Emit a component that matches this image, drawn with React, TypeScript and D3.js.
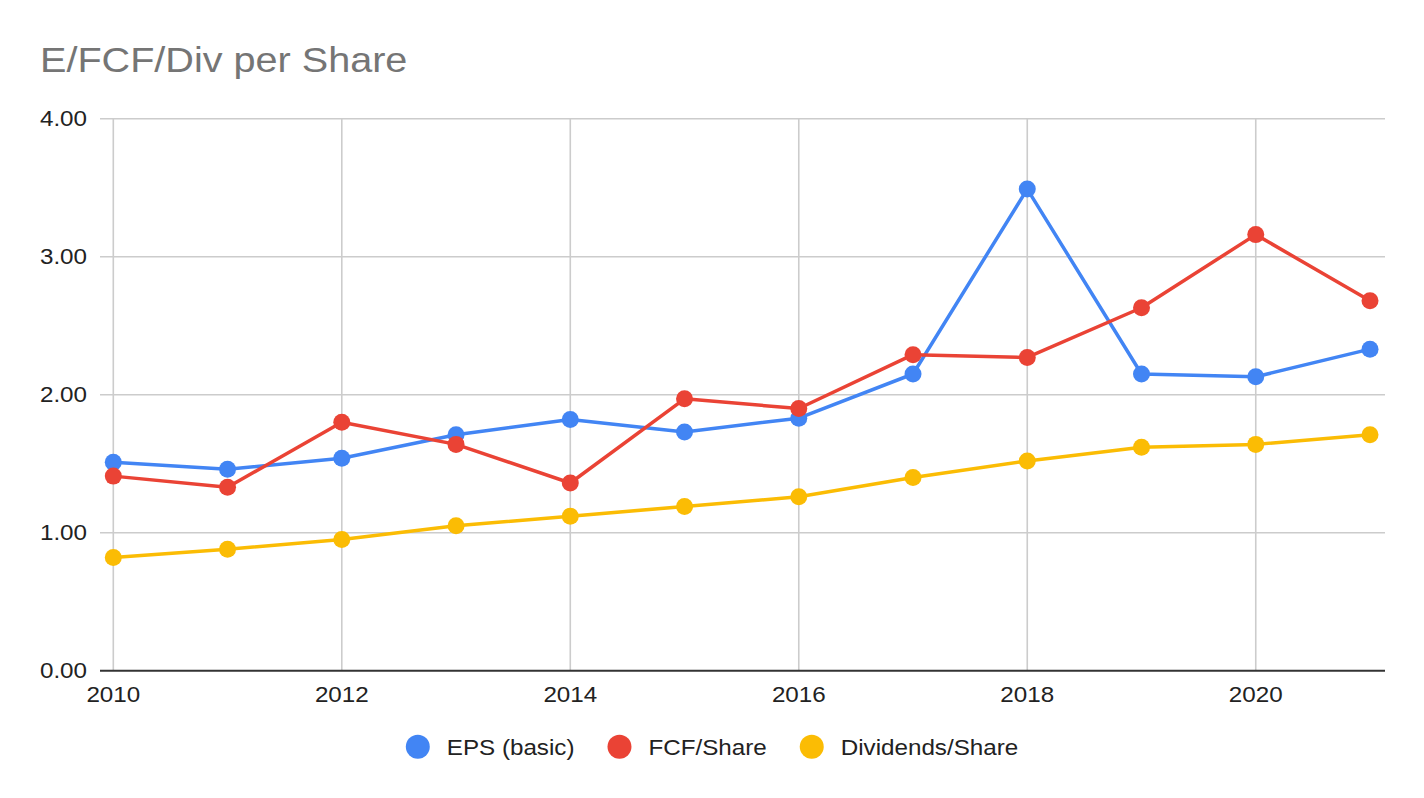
import * as d3 from "d3";
import { useEffect, useRef } from "react";

const years = [2010, 2011, 2012, 2013, 2014, 2015, 2016, 2017, 2018, 2019, 2020, 2021];
const epsBasic = [1.51, 1.46, 1.54, 1.71, 1.82, 1.73, 1.83, 2.15, 3.49, 2.15, 2.13, 2.33];
const fcfShare = [1.41, 1.33, 1.8, 1.64, 1.36, 1.97, 1.9, 2.29, 2.27, 2.63, 3.16, 2.68];
const divShare = [0.82, 0.88, 0.95, 1.05, 1.12, 1.19, 1.26, 1.4, 1.52, 1.62, 1.64, 1.71];
const xTicks = [2010, 2012, 2014, 2016, 2018, 2020];
const yTicks = [0, 1, 2, 3, 4];

const seriesNames = ["EPS (basic)", "FCF/Share", "Dividends/Share"];
const seriesColors = ["#4285F4", "#EA4335", "#FBBC04"];
const seriesValues = [epsBasic, fcfShare, divShare];

const W = 1424;
const H = 798;
const FONT = "'Liberation Sans', Arial, sans-serif";
const STRETCH = 1.1; // text in the source is a bit wider than plain Arial

export default function App() {
  const svgRef = useRef<SVGSVGElement>(null);

  useEffect(() => {
    if (!svgRef.current) return;
    const svg = d3.select(svgRef.current);
    svg.selectAll("*").remove();

    const plot = { left: 100, right: 1385, top: 118.7, bottom: 670.7 };

    const x = d3.scaleLinear().domain([2010, 2021]).range([113.3, 1370]);
    const y = d3.scaleLinear().domain([0, 4]).range([plot.bottom, plot.top]);

    const text = (
      g: d3.Selection<any, unknown, null, undefined>,
      tx: number,
      ty: number,
      str: string,
      size: number,
      fill: string,
      anchor = "start",
    ) =>
      g
        .append("text")
        .attr("transform", `translate(${tx},${ty}) scale(${STRETCH},1)`)
        .attr("text-anchor", anchor)
        .attr("font-family", FONT)
        .attr("font-size", size)
        .attr("fill", fill)
        .text(str);

    svg.append("rect").attr("width", W).attr("height", H).attr("fill", "#fff");

    // Title
    text(svg, 40, 72, "E/FCF/Div per Share", 36, "#757575");

    // Grid
    const grid = svg.append("g").attr("stroke", "#cccccc").attr("stroke-width", 1.6);
    yTicks.slice(1).forEach((t) => {
      grid.append("line").attr("x1", plot.left).attr("x2", plot.right).attr("y1", y(t)).attr("y2", y(t));
    });
    xTicks.forEach((t) => {
      grid.append("line").attr("x1", x(t)).attr("x2", x(t)).attr("y1", plot.top).attr("y2", plot.bottom);
    });

    // Baseline
    svg
      .append("line")
      .attr("x1", plot.left)
      .attr("x2", plot.right)
      .attr("y1", y(0))
      .attr("y2", y(0))
      .attr("stroke", "#333")
      .attr("stroke-width", 2);

    // Axis labels
    yTicks.forEach((t) => text(svg, 87, y(t) + 7.5, d3.format(".2f")(t), 22, "#222", "end"));
    xTicks.forEach((t) => text(svg, x(t), 702, String(t), 22, "#222", "middle"));

    // Series
    const line = d3
      .line<number>()
      .x((_, i) => x(years[i]))
      .y((d) => y(d));

    seriesValues.forEach((vals, si) => {
      const g = svg.append("g");
      g.append("path")
        .attr("d", line(vals))
        .attr("fill", "none")
        .attr("stroke", seriesColors[si])
        .attr("stroke-width", 3.5)
        .attr("stroke-linejoin", "round");
      g.selectAll("circle")
        .data(vals)
        .enter()
        .append("circle")
        .attr("cx", (_, i) => x(years[i]))
        .attr("cy", (d) => y(d))
        .attr("r", 8.5)
        .attr("fill", seriesColors[si]);
    });

    // Legend, centred on the page
    const legend = svg.append("g");
    const items: { g: any; w: number }[] = [];
    seriesNames.forEach((name, i) => {
      const g = legend.append("g");
      g.append("circle").attr("cx", 12).attr("cy", 0).attr("r", 12).attr("fill", seriesColors[i]);
      const t = text(g, 41, 8, name, 22, "#222");
      const w = 41 + (t.node() as SVGTextElement).getComputedTextLength() * STRETCH;
      items.push({ g, w });
    });
    const gap = 33;
    const total = d3.sum(items, (d) => d.w) + gap * (items.length - 1);
    let cur = W / 2 - total / 2;
    items.forEach((it) => {
      it.g.attr("transform", `translate(${cur},746.7)`);
      cur += it.w + gap;
    });
  }, []);

  return (
    <svg
      ref={svgRef}
      width={W}
      height={H}
      style={{ position: "absolute", left: 0, top: 0, display: "block" }}
    />
  );
}
